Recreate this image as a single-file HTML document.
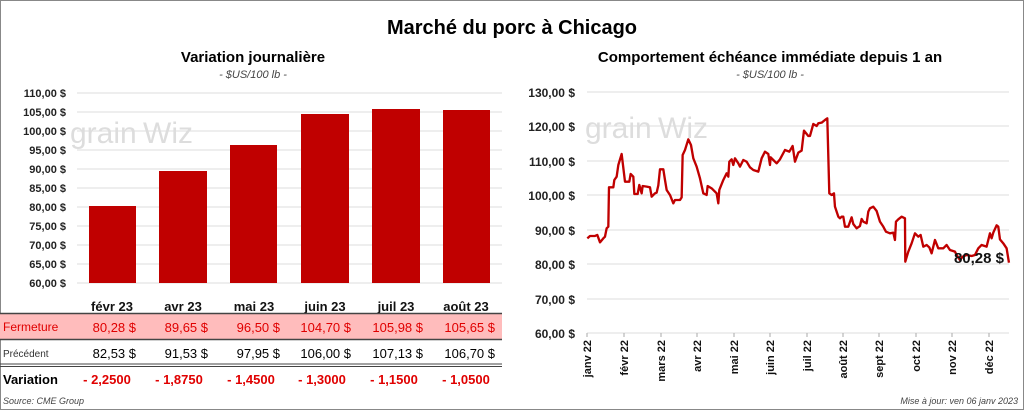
<!DOCTYPE html>
<html><head><meta charset="utf-8"><style>
body{margin:0;background:#fff}
svg{display:block;font-family:"Liberation Sans",sans-serif}
</style></head><body>
<svg width="1024" height="410" viewBox="0 0 1024 410" xmlns="http://www.w3.org/2000/svg">
<rect x="0.5" y="0.5" width="1023" height="409" fill="#fff" stroke="#888"/>
<text x="512" y="34" text-anchor="middle" font-size="20" font-weight="bold" fill="#000">Marché du porc à Chicago</text>
<text x="253" y="62" text-anchor="middle" font-size="15" font-weight="bold">Variation  journalière</text>
<text x="253" y="78" text-anchor="middle" font-size="11" font-style="italic" fill="#444">- $US/100 lb -</text>
<text x="770" y="62" text-anchor="middle" font-size="15" font-weight="bold">Comportement  échéance immédiate depuis 1 an</text>
<text x="770" y="78" text-anchor="middle" font-size="11" font-style="italic" fill="#444">- $US/100 lb -</text>

<!-- left chart -->
<g stroke="#ddd" stroke-width="1">
<line x1="77" x2="502" y1="93" y2="93"/><line x1="77" x2="502" y1="112" y2="112"/><line x1="77" x2="502" y1="131" y2="131"/><line x1="77" x2="502" y1="150" y2="150"/><line x1="77" x2="502" y1="169" y2="169"/><line x1="77" x2="502" y1="188" y2="188"/><line x1="77" x2="502" y1="207" y2="207"/><line x1="77" x2="502" y1="226" y2="226"/><line x1="77" x2="502" y1="245" y2="245"/><line x1="77" x2="502" y1="264" y2="264"/><line x1="77" x2="502" y1="283" y2="283"/>
</g>
<g font-size="11" font-weight="bold" text-anchor="end" fill="#222">
<text x="66" y="97">110,00 $</text><text x="66" y="116">105,00 $</text><text x="66" y="135">100,00 $</text><text x="66" y="154">95,00 $</text><text x="66" y="173">90,00 $</text><text x="66" y="192">85,00 $</text><text x="66" y="211">80,00 $</text><text x="66" y="230">75,00 $</text><text x="66" y="249">70,00 $</text><text x="66" y="268">65,00 $</text><text x="66" y="287">60,00 $</text>
</g>
<text x="70" y="143" font-size="30" fill="#ddd">grain</text><text x="143" y="143" font-size="30" fill="#ddd">Wiz</text>
<g fill="#c00000">
<rect x="89" y="206" width="47" height="77"/><rect x="159" y="171" width="48" height="112"/><rect x="230" y="145" width="47" height="138"/><rect x="301" y="114" width="48" height="169"/><rect x="372" y="109" width="48" height="174"/><rect x="443" y="110" width="47" height="173"/>
</g>
<g font-size="13" font-weight="bold" text-anchor="middle" fill="#111">
<text x="112" y="311">févr 23</text><text x="183" y="311">avr 23</text><text x="254" y="311">mai 23</text><text x="325" y="311">juin 23</text><text x="396" y="311">juil 23</text><text x="466" y="311">août 23</text>
</g>
<rect x="0" y="314" width="502" height="25" fill="#ffbcbc"/>
<line x1="0" x2="502" y1="313.5" y2="313.5" stroke="#444" stroke-width="1.5"/>
<line x1="0" x2="502" y1="339.5" y2="339.5" stroke="#444" stroke-width="1.5"/>
<line x1="0" x2="502" y1="364" y2="364" stroke="#444" stroke-width="1"/>
<line x1="0" x2="502" y1="366.5" y2="366.5" stroke="#444" stroke-width="1"/>
<text x="3" y="331" font-size="12" fill="#e00000">Fermeture</text>
<g font-size="13" fill="#e00000" text-anchor="end">
<text x="136" y="332">80,28  $</text><text x="208" y="332">89,65  $</text><text x="280" y="332">96,50  $</text><text x="351" y="332">104,70  $</text><text x="423" y="332">105,98  $</text><text x="495" y="332">105,65  $</text>
</g>
<text x="3" y="357" font-size="10" fill="#333">Précédent</text>
<g font-size="13" fill="#000" text-anchor="end">
<text x="136" y="358">82,53  $</text><text x="208" y="358">91,53  $</text><text x="280" y="358">97,95  $</text><text x="351" y="358">106,00  $</text><text x="423" y="358">107,13  $</text><text x="495" y="358">106,70  $</text>
</g>
<text x="3" y="384" font-size="13" font-weight="bold">Variation</text>
<g font-size="13" font-weight="bold" fill="#e00000" text-anchor="middle">
<text x="107" y="384">- 2,2500</text><text x="179" y="384">- 1,8750</text><text x="251" y="384">- 1,4500</text><text x="322" y="384">- 1,3000</text><text x="394" y="384">- 1,1500</text><text x="466" y="384">- 1,0500</text>
</g>
<text x="3" y="404" font-size="9" font-style="italic" fill="#444">Source: CME Group</text>
<line x1="510" x2="510" y1="0" y2="0"/>

<!-- right chart -->
<g stroke="#ddd" stroke-width="1">
<line x1="587" x2="1009" y1="92" y2="92"/><line x1="587" x2="1009" y1="126" y2="126"/><line x1="587" x2="1009" y1="161" y2="161"/><line x1="587" x2="1009" y1="195" y2="195"/><line x1="587" x2="1009" y1="230" y2="230"/><line x1="587" x2="1009" y1="264" y2="264"/><line x1="587" x2="1009" y1="299" y2="299"/><line x1="587" x2="1009" y1="333" y2="333"/>
</g>
<g font-size="12" font-weight="bold" text-anchor="end" fill="#222">
<text x="575" y="97">130,00 $</text><text x="575" y="131">120,00 $</text><text x="575" y="166">110,00 $</text><text x="575" y="200">100,00 $</text><text x="575" y="235">90,00 $</text><text x="575" y="269">80,00 $</text><text x="575" y="304">70,00 $</text><text x="575" y="338">60,00 $</text>
</g>
<text x="585" y="138" font-size="30" fill="#ddd">grain</text><text x="658" y="138" font-size="30" fill="#ddd">Wiz</text>
<g stroke="#aaa"><line x1="587" x2="587" y1="333" y2="337"/><line x1="624" x2="624" y1="333" y2="337"/><line x1="661" x2="661" y1="333" y2="337"/><line x1="697" x2="697" y1="333" y2="337"/><line x1="734" x2="734" y1="333" y2="337"/><line x1="770" x2="770" y1="333" y2="337"/><line x1="807" x2="807" y1="333" y2="337"/><line x1="843" x2="843" y1="333" y2="337"/><line x1="879" x2="879" y1="333" y2="337"/><line x1="916" x2="916" y1="333" y2="337"/><line x1="952" x2="952" y1="333" y2="337"/><line x1="989" x2="989" y1="333" y2="337"/></g>
<g font-size="11" font-weight="bold" fill="#111" text-anchor="end">
<text transform="translate(591,340) rotate(-90)">janv 22</text><text transform="translate(628,340) rotate(-90)">févr 22</text><text transform="translate(665,340) rotate(-90)">mars 22</text><text transform="translate(701,340) rotate(-90)">avr 22</text><text transform="translate(738,340) rotate(-90)">mai 22</text><text transform="translate(774,340) rotate(-90)">juin 22</text><text transform="translate(811,340) rotate(-90)">juil 22</text><text transform="translate(847,340) rotate(-90)">août 22</text><text transform="translate(883,340) rotate(-90)">sept 22</text><text transform="translate(920,340) rotate(-90)">oct 22</text><text transform="translate(956,340) rotate(-90)">nov 22</text><text transform="translate(993,340) rotate(-90)">déc 22</text>
</g>
<g transform="translate(510,80) scale(0.3333)">
<polyline fill="none" stroke="#c00000" stroke-width="7" stroke-linejoin="round" points="232,475 240,468 255,468 262,465 270,487 280,475 285,470 290,445 295,440 297,322 310,322 313,300 320,290 325,255 335,222 345,305 358,305 362,282 370,290 373,342 383,342 388,315 395,340 398,318 410,320 420,322 425,350 435,340 440,338 445,316 450,268 460,268 465,300 470,330 480,345 490,370 495,360 510,360 515,352 518,225 525,210 535,178 543,195 550,235 560,260 570,295 580,340 590,345 593,318 605,325 620,340 625,370 628,330 640,300 650,280 655,290 658,245 665,238 670,255 675,235 685,250 690,260 700,240 710,245 720,262 730,270 745,275 755,235 765,215 775,222 780,255 782,232 790,240 800,250 810,238 825,210 838,215 848,198 855,245 865,218 875,212 882,152 895,168 900,168 910,132 920,138 925,130 935,128 945,120 952,115 958,340 965,345 972,340 975,380 985,410 990,415 995,410 1000,410 1005,440 1015,440 1025,412 1030,432 1040,445 1050,438 1055,417 1060,425 1070,430 1075,395 1080,385 1090,380 1100,393 1110,425 1120,440 1128,455 1140,460 1150,458 1155,480 1158,425 1165,418 1175,410 1185,415 1186,545 1195,515 1205,490 1215,460 1225,470 1232,465 1240,500 1250,495 1258,502 1265,520 1275,480 1285,505 1300,505 1310,495 1320,510 1335,515 1340,525 1350,540 1358,530 1370,525 1385,528 1395,525 1405,505 1415,495 1430,500 1440,460 1445,475 1450,458 1460,436 1465,440 1470,478 1480,490 1490,505 1497,548"/>
</g>
<text x="1004" y="263" font-size="15" font-weight="bold" text-anchor="end" fill="#111">80,28 $</text>
<text x="1018" y="404" font-size="9" font-style="italic" fill="#444" text-anchor="end">Mise à jour: ven 06 janv 2023</text>
</svg>
</body></html>
